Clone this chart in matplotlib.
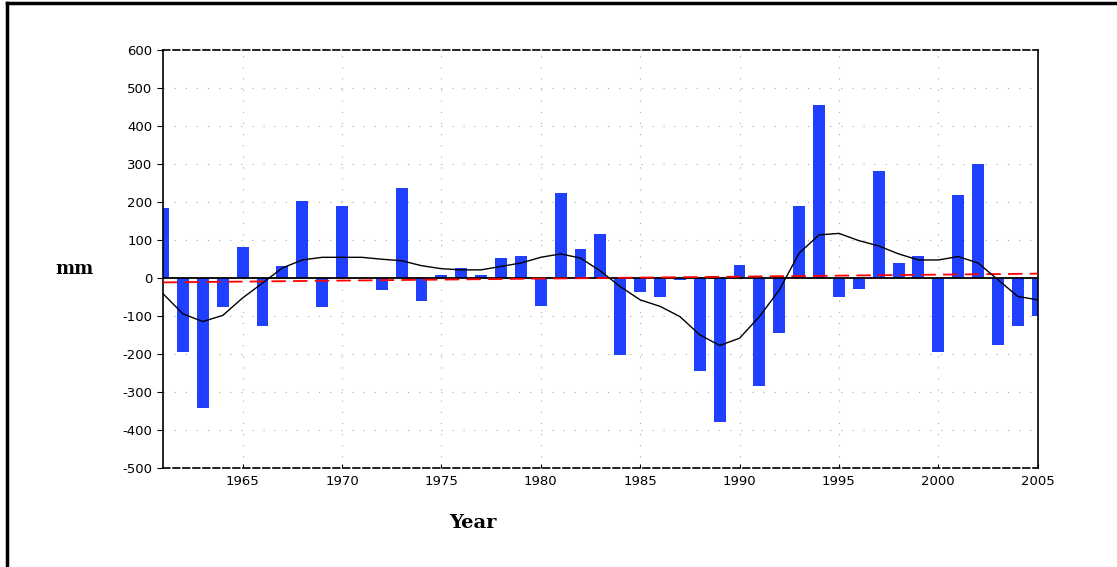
import numpy as np
import matplotlib.pyplot as plt
from matplotlib.lines import Line2D

plt.rcParams['axes.unicode_minus'] = False

years = list(range(1961, 2006))

# annual anomaly (mm)
anom = [183, -195, -343, -77, 80, -126, 30, 201, -77, 188,
        0, -32, 236, -60, 7, 25, 7, 52, 57, -73,
        223, 75, 116, -203, -37, -50, -5, -245, -379, 34,
        -284, -146, 188, 454, -51, -29, 282, 39, 57, -195,
        218, 300, -177, -127, -100]

# smoothed curve
smooth = [-42, -95, -115, -99, -53, -14, 26, 47, 54, 54,
          54, 49, 45, 32, 24, 21, 21, 30, 39, 54,
          63, 52, 18, -23, -58, -75, -102, -150, -178, -159,
          -102, -32, 65, 113, 117, 98, 84, 63, 47, 47,
          56, 39, -5, -49, -58]

# linear trend end points
trend_years = [1961, 2005]
trend_vals = [-12, 11]

fig = plt.figure(figsize=(11.17, 5.67), dpi=100)
ax = fig.add_axes([0.146, 0.175, 0.783, 0.737])

ax.bar(years, anom, width=0.6, color='#2040ff', zorder=2)
ax.axhline(0, color='black', lw=1.3, zorder=3)
ax.plot(trend_years, trend_vals, color='red', lw=1.3, dashes=(8, 4), zorder=4)
ax.plot(years, smooth, color='black', lw=1.0, zorder=5)

ax.set_xlim(1961, 2005)
ax.set_ylim(-500, 600)
ax.set_xticks(range(1965, 2006, 5))
ax.set_yticks(range(-500, 601, 100))
ax.grid(True, color='#aaaaaa', lw=0.8, linestyle=(0, (1, 9)), zorder=0)

for s in ['top', 'bottom']:
    ax.spines[s].set_linestyle((0, (4, 2)))
for s in ax.spines.values():
    s.set_linewidth(1.2)

ax.tick_params(axis='y', direction='out', length=4, labelsize=9.5)
ax.tick_params(axis='x', direction='in', length=3, labelsize=9.5, pad=5)

fig.text(0.067, 0.525, 'mm', fontsize=13, fontweight='bold', family='DejaVu Serif',
         ha='center', va='center')
fig.text(0.423, 0.077, 'Year', fontsize=14, fontweight='bold', family='DejaVu Serif',
         ha='center', va='center')

# outer frame (left and top only)
fig.add_artist(Line2D([0.006, 0.006], [0, 0.995], color='black', lw=2.5,
                      transform=fig.transFigure))
fig.add_artist(Line2D([0.006, 1.0], [0.995, 0.995], color='black', lw=2.5,
                      transform=fig.transFigure))

fig.savefig('out.png', dpi=100)
